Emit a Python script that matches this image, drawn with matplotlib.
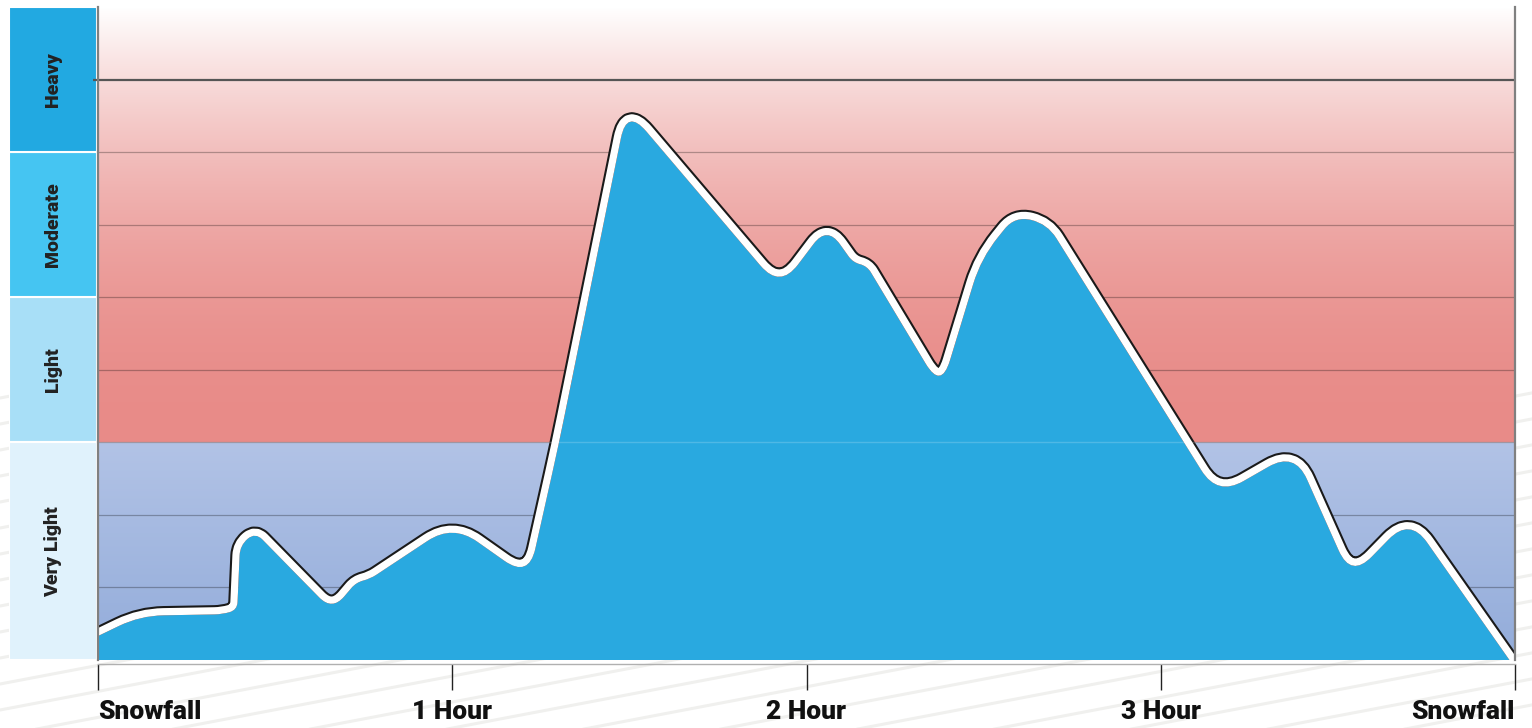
import numpy as np
import matplotlib
matplotlib.use("Agg")
import matplotlib.pyplot as plt
from matplotlib.path import Path
from matplotlib.patches import PathPatch
from matplotlib.lines import Line2D
from matplotlib.transforms import Bbox

plt.rcParams['font.family'] = ['Roboto', 'DejaVu Sans']

# ---------------- data ----------------
hours = [0.000, 0.119, 0.351, 0.393, 0.401, 0.444, 0.661, 0.729, 0.769, 1.001,
         1.216, 1.300, 1.493, 1.925, 2.058, 2.131, 2.171, 2.380, 2.493, 2.589,
         2.680, 3.160, 3.378, 3.537, 3.703, 4.000]
level = [0.33, 0.61, 0.63, 0.69, 1.58, 1.76, 0.68, 1.07, 1.12, 1.87,
         1.13, 2.96, 7.60, 5.12, 5.98, 5.48, 5.43, 3.73, 5.54, 6.12,
         6.01, 2.26, 2.87, 1.13, 1.96, -0.11]

tick_hours = [0, 1, 2, 3, 4]
tick_labels = ["Snowfall", "1 Hour", "2 Hour", "3 Hour", "Snowfall"]

band_names = ["Very Light", "Light", "Moderate", "Heavy"]
band_bottoms = [0, 3, 5, 7]
band_tops = [3, 5, 7, 9]
band_colors = ["#E0F2FC", "#A8DFF7", "#45C5F2", "#22A9E1"]

grid_levels = [1, 2, 3, 4, 5, 6, 7]
heavy_line = 8

# ---------------- figure ----------------
W, H = 1532, 728
fig = plt.figure(figsize=(W / 100, H / 100), dpi=100)
fig.patch.set_facecolor("white")

# decorative diagonal stripes in the background
for c in range(-320, 360, 26):
    xs = np.array([0, W])
    ys = c + 0.19 * xs
    ln = Line2D(xs / W, ys / H, transform=fig.transFigure, color="#F0F0EE",
                lw=2.2, zorder=0)
    ln.set_clip_box(Bbox.from_extents(0, 0, W, 345))
    ln.set_clip_on(True)
    fig.add_artist(ln)

# left category panel
axp = fig.add_axes([9 / W, 68 / H, 88 / W, 653 / H])
for name, b, t, col in zip(band_names, band_bottoms, band_tops, band_colors):
    axp.bar(0.5, t - b, bottom=b, width=1.0, color=col, edgecolor="white",
            linewidth=1.5)
    axp.text(0.5, (b + t) / 2, name, rotation=90, ha="center", va="center",
             fontsize=14, fontweight="black", color="#222222")
axp.set_xlim(0, 1)
axp.set_ylim(0, 9)
axp.axis("off")

# main axes
ax = fig.add_axes([98 / W, 68 / H, 1417 / W, 653 / H])
ax.set_xlim(0, 4)
ax.set_ylim(0, 9)

# background gradient
N = 600
v = np.linspace(0, 9, N)
img = np.zeros((N, 1, 3))
red = np.array([232, 139, 136]) / 255
white = np.array([1.0, 1.0, 1.0])
blue_top = np.array([178, 195, 230]) / 255
blue_bot = np.array([147, 172, 218]) / 255
for i, vv in enumerate(v):
    if vv >= 3:
        t = ((vv - 3) / 6) ** 2
        img[i, 0] = red + (white - red) * t
    else:
        t = vv / 3
        img[i, 0] = blue_bot + (blue_top - blue_bot) * t
ax.imshow(img, extent=[0, 4, 0, 9], origin="lower", aspect="auto",
          interpolation="bilinear", zorder=0)

for g in grid_levels:
    ax.axhline(g, color="black", alpha=0.28, lw=0.9, zorder=1)
ax.axhline(heavy_line, color="#555555", lw=1.6, zorder=1)

# polyline through the data with rounded corners (built in display space)
fig.canvas.draw()
pts = ax.transData.transform(np.column_stack([hours, level]))
R = 30.0
verts = [pts[0]]
codes = [Path.MOVETO]
for i in range(1, len(pts) - 1):
    P = pts[i]
    din = P - pts[i - 1]
    dout = pts[i + 1] - P
    lin, lout = np.hypot(*din), np.hypot(*dout)
    r = min(R, 0.5 * lin, 0.5 * lout)
    A = P - din / lin * r
    B = P + dout / lout * r
    verts += [A, P, B]
    codes += [Path.LINETO, Path.CURVE3, Path.CURVE3]
verts.append(pts[-1])
codes.append(Path.LINETO)
verts_d = ax.transData.inverted().transform(np.array(verts))

curve = Path(verts_d, codes)
fill_path = Path(np.vstack([verts_d, [[hours[-1], -1], [hours[0], -1], [hours[0], -1]]]),
                 codes + [Path.LINETO, Path.LINETO, Path.CLOSEPOLY])
above_path = Path(np.vstack([verts_d, [[hours[-1] + 0.5, 10], [hours[0] - 0.5, 10],
                                        [hours[0] - 0.5, level[0]], [hours[0], level[0]]]]),
                  codes + [Path.LINETO, Path.LINETO, Path.LINETO, Path.CLOSEPOLY])

fill = PathPatch(fill_path, facecolor="#29A9E0", edgecolor="none", zorder=3)
ax.add_patch(fill)

clip_patch = PathPatch(above_path, transform=ax.transData, facecolor="none",
                       edgecolor="none")
for lw, col, z in [(13.4, "#1A1A1A", 4), (10.4, "white", 4.5)]:
    st = PathPatch(curve, fill=False, edgecolor=col, lw=lw, zorder=z,
                   capstyle="butt", joinstyle="round")
    ax.add_patch(st)
    st.set_clip_path(clip_patch)
    st.set_clip_box(ax.bbox)

ax.axhline(3, color="white", alpha=0.18, lw=1.0, zorder=6)

# spines and ticks
ax.spines["top"].set_visible(False)
for s in ["left", "right"]:
    ax.spines[s].set_color("#808080")
    ax.spines[s].set_linewidth(1.6)
    ax.spines[s].set_zorder(7)
ax.spines["bottom"].set_position(("outward", 3))
ax.spines["bottom"].set_color("#B0B0B0")
ax.spines["bottom"].set_linewidth(1.0)

ax.set_xticks(tick_hours)
ax.set_xticklabels(tick_labels)
ax.tick_params(axis="x", direction="out", length=19, width=1.0, color="#222222",
               pad=7, labelsize=19, labelcolor="#111111")
for lab in ax.get_xticklabels():
    lab.set_fontweight("black")
labs = ax.get_xticklabels()
labs[0].set_ha("left")
labs[-1].set_ha("right")

ax.set_yticks([heavy_line])
ax.set_yticklabels([""])
ax.tick_params(axis="y", direction="out", length=3.5, width=1.6, color="#555555")

fig.savefig("out.png", dpi=100, facecolor="white")
